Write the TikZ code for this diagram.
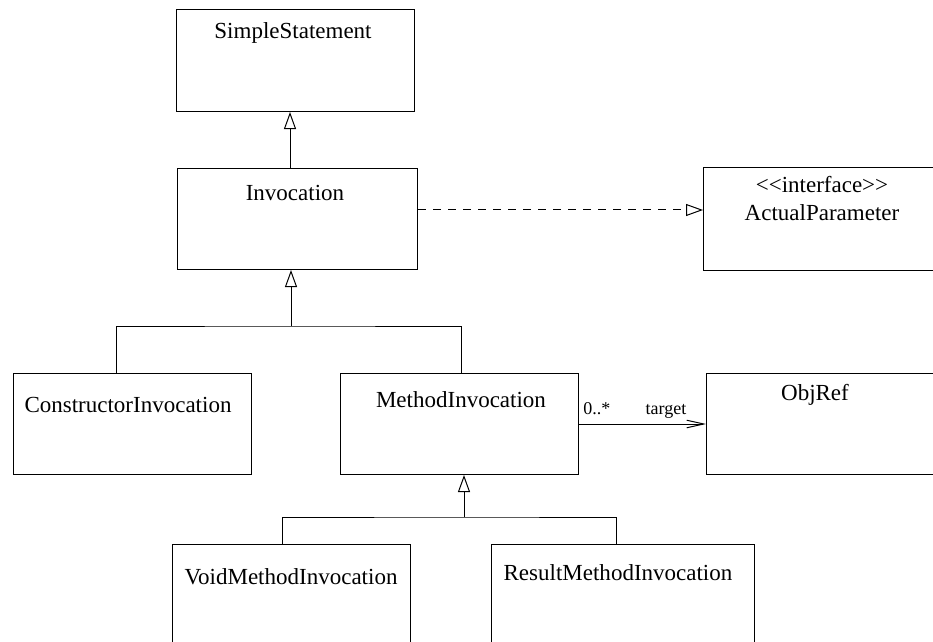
\documentclass[tikz,border=0pt]{standalone}
\usepackage{fontspec}
\setmainfont{Liberation Serif}
\usetikzlibrary{arrows.meta}
\tikzset{
  box/.style={draw, line width=0.5bp, rectangle, inner sep=0pt, anchor=north west},
  title/.style={font=\fontsize{11.5bp}{14bp}\selectfont, inner sep=0pt, align=center},
  small/.style={font=\fontsize{9bp}{11bp}\selectfont, inner sep=0pt},
  conn/.style={line width=0.5bp},
  gen/.style={conn, -{Triangle[open, length=8.5bp, width=6bp]}},
  real/.style={conn, dash pattern=on 4bp off 3.5bp, -{Triangle[open, length=8.5bp, width=6bp]}},
  assoc/.style={conn, -{Straight Barb[length=8.5bp, width=3.8bp]}}
}
\begin{document}
\begin{tikzpicture}[x=0.5bp, y=-0.5bp]
\useasboundingbox (0,0) rectangle (933,642);
\clip (0,0) rectangle (933,642);
% boxes
\node[box, minimum width=119bp, minimum height=51bp] (ss) at (176,9) {};
\node[box, minimum width=120bp, minimum height=50.5bp] (inv) at (177,168) {};
\node[box, minimum width=130bp, minimum height=51.5bp] (ap) at (703,167) {};
\node[box, minimum width=119bp, minimum height=50.5bp] (ci) at (13,373) {};
\node[box, minimum width=119bp, minimum height=50.5bp] (mi) at (340,373) {};
\node[box, minimum width=130bp, minimum height=50.5bp] (obj) at (706,373) {};
\node[box, minimum width=119bp, minimum height=70bp] (vmi) at (172,544) {};
\node[box, minimum width=131.5bp, minimum height=70bp] (rmi) at (491,544) {};
% titles
\node[title] (tss) at (293,33) {SimpleStatement};
\node[title] (tinv) at (295,193) {Invocation};
\node[title] (tap1) at (822,185) {<\kern0pt<interface>\kern0pt>};
\node[title] (tap2) at (822,213) {ActualParameter};
\node[title] (tci) at (128,405) {ConstructorInvocation};
\node[title] (tmi) at (461,400) {MethodInvocation};
\node[title] (tobj) at (815,395) {ObjRef};
\node[title] (tvmi) at (291,577) {VoidMethodInvocation};
\node[title] (trmi) at (618,573) {ResultMethodInvocation};
% helper coordinates
\coordinate (g0) at (290,0);
\coordinate (b1) at (291,326);
\coordinate (cx) at (116,0);
\coordinate (mx) at (461,0);
\coordinate (b2) at (464,517);
\coordinate (vx) at (282,0);
\coordinate (rx) at (616,0);
\coordinate (dy) at (0,210);
% generalizations
\draw[gen] (inv.north -| g0) -- (ss.south -| g0);
\draw[conn] (ci.north -| cx) |- (b1) -| (mi.north -| mx);
\draw[gen] (b1) -- (b1 |- inv.south);
\draw[conn] (vmi.north -| vx) |- (b2) -| (rmi.north -| rx);
\draw[gen] (b2) -- (b2 |- mi.south);
% realization
\draw[real] (inv.east |- dy) -- (ap.west |- dy);
% association
\draw[assoc] (mi.east) -- (obj.west);
\node[small, anchor=base west] (m1) at (583,414) {0..*};
\node[small, anchor=base] (m2) at (666,414) {target};
\end{tikzpicture}
\end{document}
